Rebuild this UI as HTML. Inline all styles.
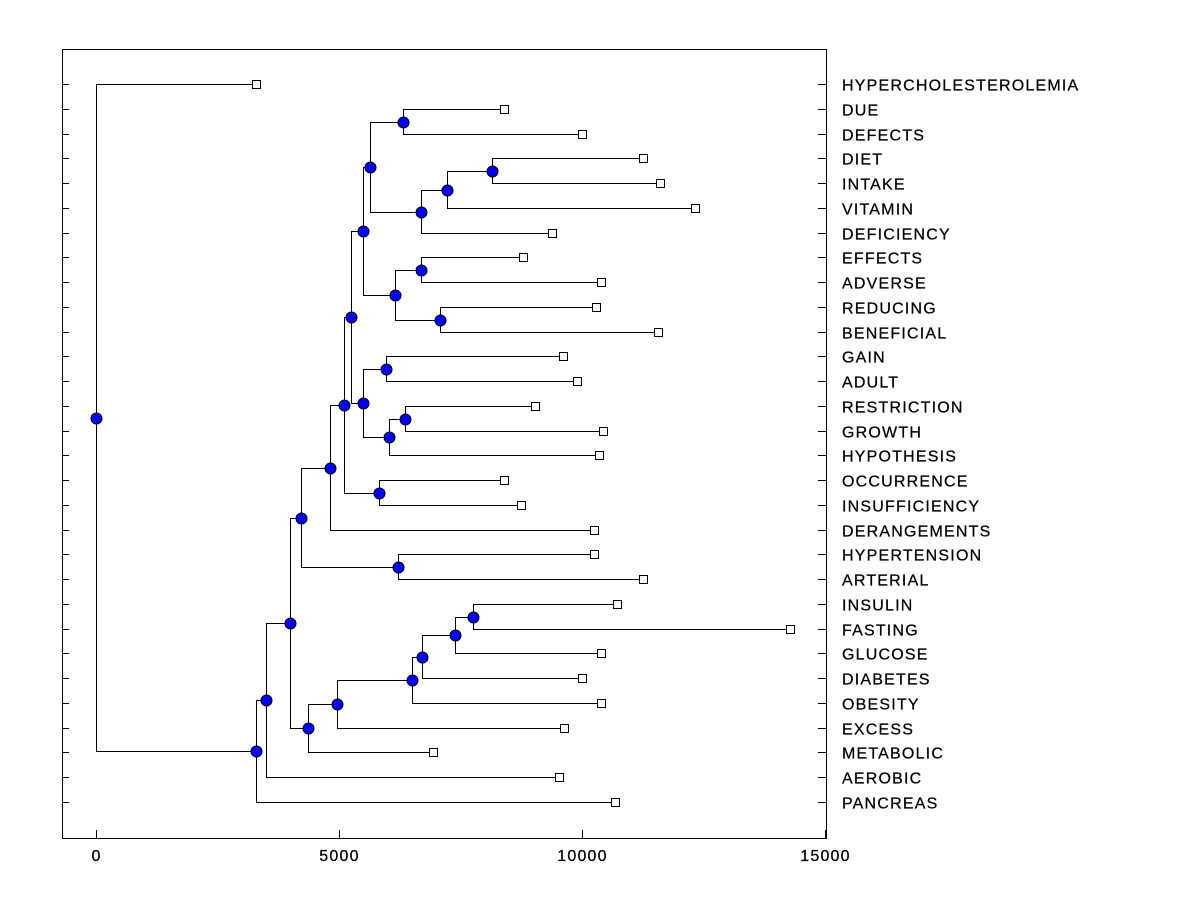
<!DOCTYPE html>
<html><head><meta charset="utf-8"><style>
body{margin:0;background:#fff;}
svg{display:block;font-family:"Liberation Sans",Arial,sans-serif;}
text{letter-spacing:1.2px;fill:#000;stroke:#000;stroke-width:0.25px;}
</style></head><body>
<svg id="chart" width="1200" height="900" xmlns="http://www.w3.org/2000/svg">
<rect x="0" y="0" width="1200" height="900" fill="#fff"/>
<g id="plot"></g>
</svg>
<script>
const leafLabels = ["HYPERCHOLESTEROLEMIA","DUE","DEFECTS","DIET","INTAKE","VITAMIN","DEFICIENCY","EFFECTS","ADVERSE","REDUCING","BENEFICIAL","GAIN","ADULT","RESTRICTION","GROWTH","HYPOTHESIS","OCCURRENCE","INSUFFICIENCY","DERANGEMENTS","HYPERTENSION","ARTERIAL","INSULIN","FASTING","GLUCOSE","DIABETES","OBESITY","EXCESS","METABOLIC","AEROBIC","PANCREAS"];
const leafValues = [3282,8405,10010,11265,11595,12335,9393,8776,10381,10298,11574,9599,9887,9023,10442,10340,8405,8755,10257,10257,11265,10710,14290,10401,9990,10381,9620,6944,9537,10669];
const mergeLeft =  [3,30,31,1,33,7,9,35,34,11,13,40,39,38,16,43,45,19,46,21,49,50,51,52,53,48,55,56,0];
const mergeRight = [4,5,6,2,32,8,10,36,37,12,14,15,41,42,17,44,18,20,47,22,23,24,25,26,27,54,28,29,57];
const mergeHeight = [8158,7232,6677,6327,5628,6677,7068,6142,5504,5977,6348,6019,5504,5257,5833,5113,4805,6204,4208,7747,7397,6698,6492,4969,4352,4002,3508,3282,0];
const xTicks = [0,5000,10000,15000];

const NS = "http://www.w3.org/2000/svg";
const plot = document.getElementById('plot');
const L = 62, R = 826, T = 49, B = 838;
const xs = v => Math.round(96 + v * 0.0486) + 0.5;
const ys = i => Math.round(84 + i * (802 - 84) / 29) + 0.5;
function mk(tag, attrs, parent) {
  const e = document.createElementNS(NS, tag);
  for (const k in attrs) e.setAttribute(k, attrs[k]);
  (parent || plot).appendChild(e);
  return e;
}
let f = mk('rect', {x:L+0.5, y:T+0.5, width:R-L, height:B-T, fill:'none', stroke:'#000', 'stroke-width':1});


xTicks.forEach(t => {
  const tk = mk('line', {x1:xs(t), x2:xs(t), y1:B, y2:B-8, stroke:'#000'});
  
  
  const tl = mk('text', {x:xs(t), y:B+23, 'text-anchor':'middle', 'font-size':16});
  tl.textContent = t;
  
  
});
leafLabels.forEach((lab, i) => {
  const t1 = mk('line', {x1:L, x2:L+7, y1:ys(i), y2:ys(i), stroke:'#000'});
  
  
  const t2 = mk('line', {x1:R-8, x2:R, y1:ys(i), y2:ys(i), stroke:'#000'});
  
  
  const tx = mk('text', {x:842, y:ys(i)+6, 'font-size':16});
  tx.textContent = lab;
  
  
});
const n = leafLabels.length;
const nx = [], ny = [];
for (let i = 0; i < n; i++) { nx.push(xs(leafValues[i])); ny.push(ys(i)); }
const lines = mk('g', {});


const dots = [];
mergeHeight.forEach((h, k) => {
  const a = mergeLeft[k], b = mergeRight[k];
  const x = xs(h), y = Math.round((ny[a] + ny[b]) / 2 - 0.5) + 0.5;
  nx.push(x); ny.push(y);
  const p = mk('path', {d:`M${nx[a]},${ny[a]}H${x}V${ny[b]}H${nx[b]}`, fill:'none', stroke:'#000', 'stroke-width':1}, lines);
  
  
  dots.push([x, y]);
});
dots.forEach(([x, y]) => {
  const c = mk('circle', {cx:x, cy:y, r:5.5, fill:'#0000ff', stroke:'#000', 'stroke-width':1});
  
  
});
for (let i = 0; i < n; i++) {
  const s = mk('rect', {x:nx[i]-4, y:ny[i]-4, width:8, height:8, fill:'#fff', stroke:'#000', 'stroke-width':1});
  
  
}
</script>
</body></html>
